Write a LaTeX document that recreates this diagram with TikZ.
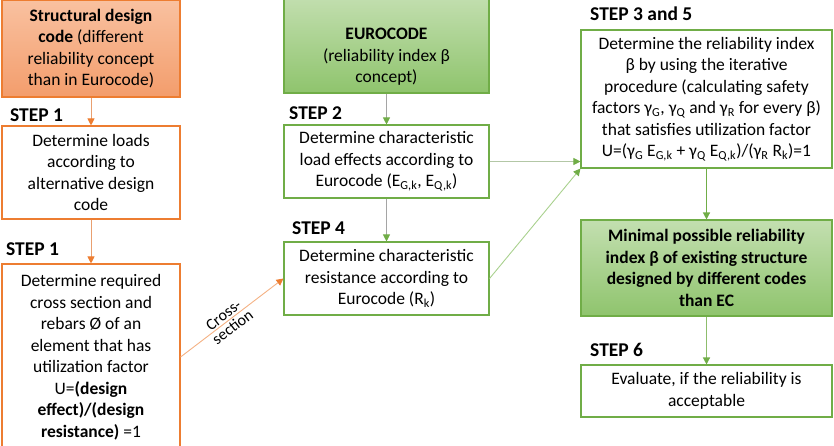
\documentclass[tikz,border=0pt]{standalone}
\usepackage{fontspec}
\setmainfont{Carlito}
\usetikzlibrary{arrows.meta}
\definecolor{ocol}{HTML}{ED7D31}
\definecolor{oline}{HTML}{E9A070}
\definecolor{olight}{HTML}{F4B183}
\definecolor{otop}{HTML}{F9C1A0}
\definecolor{obot}{HTML}{F39D6C}
\definecolor{gcol}{HTML}{70AD47}
\definecolor{gtop}{HTML}{C3DFB0}
\definecolor{gbot}{HTML}{8FC46D}
\definecolor{glight}{HTML}{A9D18E}
\definecolor{ggray}{HTML}{B3C7A6}
\definecolor{agray}{HTML}{A5A5A5}
\newcommand{\sbs}[1]{\textsubscript{#1}}
\begin{document}
\begin{tikzpicture}[x=1pt,y=-1pt,
  box/.style={draw, line width=1.1pt, align=center, inner sep=0pt,
    font=\fontsize{17.5}{21.5}\selectfont},
  obox/.style={box, draw=ocol, fill=white},
  gbox/.style={box, draw=gcol, fill=white},
  steplbl/.style={font=\bfseries\fontsize{19.5}{22}\selectfont, anchor=west, inner sep=0pt},
  tip/.style={-{Triangle[length=7pt,width=7pt,color=#1]}},
  cslbl/.style={font=\fontsize{16}{18}\selectfont, inner sep=1.5pt, sloped},
  ]
\useasboundingbox (0,0) rectangle (834,445);
\clip (0,0) rectangle (834,445);

% left column
\node[box, draw=ocol, top color=otop, bottom color=obot,
  minimum width=178pt, minimum height=97pt] (sdc) at (91,48.5)
  {\textbf{Structural design}\\\textbf{code} (different\\reliability concept\\than in Eurocode)};
\node[obox, minimum width=178pt, minimum height=93pt] (s1a) at (91,172.5)
  {Determine loads\\according to\\alternative design\\code};
\node[obox, minimum width=178pt, minimum height=186pt] (s1b) at (91,357)
  {Determine required\\cross section and\\rebars Ø of an\\element that has\\utilization factor\\U=\textbf{(design}\\\textbf{effect)/(design}\\\textbf{resistance)} =1};

% middle column
\node[box, draw=gcol, top color=gtop, bottom color=gbot,
  minimum width=205pt, minimum height=98pt] (euro) at (386.5,44) {};
\node[align=center, inner sep=0pt, font=\fontsize{17.5}{21.5}\selectfont] (eurotext) at (386.5,57)
  {\textbf{EUROCODE}\\(reliability index β\\concept)};
\node[gbox, minimum width=205pt, minimum height=73pt] (s2) at (386.5,161.5)
  {Determine characteristic\\load effects according to\\Eurocode (E\sbs{G,k}, E\sbs{Q,k})};
\node[gbox, minimum width=205pt, minimum height=73pt] (s4) at (386.5,278.5)
  {Determine characteristic\\resistance according to\\Eurocode (R\sbs{k})};

% right column
\node[gbox, minimum width=251pt, minimum height=138pt] (s35) at (706.5,99)
  {Determine the reliability index\\β by using the iterative\\procedure (calculating safety\\factors γ\sbs{G}, γ\sbs{Q} and γ\sbs{R} for every β)\\that satisfies utilization factor\\U=(γ\sbs{G} E\sbs{G,k} + γ\sbs{Q} E\sbs{Q,k})/(γ\sbs{R} R\sbs{k})=1};
\node[box, draw=gcol, top color=gtop, bottom color=gbot,
  minimum width=251pt, minimum height=96pt, font=\bfseries\fontsize{17.5}{21.5}\selectfont] (minb) at (706.5,268)
  {Minimal possible reliability\\index β of existing structure\\designed by different codes\\than EC};
\node[gbox, minimum width=251pt, minimum height=52pt] (s6) at (706.5,391)
  {Evaluate, if the reliability is\\acceptable};

% step labels
\node[steplbl] (l1) at (10,115) {STEP 1};
\node[steplbl] (l1b) at (6,249) {STEP 1};
\node[steplbl] (l2) at (289,113) {STEP 2};
\node[steplbl] (l4) at (292,228) {STEP 4};
\node[steplbl] (l35) at (590,14) {STEP 3 and 5};
\node[steplbl] (l6) at (590,350) {STEP 6};

% connectors
\draw[tip=ocol, draw=oline, line width=0.9pt] (sdc.south) -- (s1a.north);
\draw[tip=ocol, draw=oline, line width=0.9pt] (s1a.south) -- (s1b.north);
\draw[tip=ocol, draw=olight, line width=0.9pt] (s1b.east) -- (s4.west)
  node[cslbl, pos=0.46, above] (cs1) {Cross-}
  node[cslbl, pos=0.46, below] (cs2) {section};
\draw[tip=gcol, draw=agray, line width=0.9pt] (euro.south) -- (s2.north);
\draw[tip=gcol, draw=agray, line width=0.9pt] (s2.south) -- (s4.north);
\draw[tip=gcol, draw=ggray, line width=0.9pt] (s2.east) -- (s2.east -| s35.west);
\draw[tip=gcol, draw=glight, line width=0.9pt] (s4.east) -- (s35.south west);
\draw[tip=gcol, draw=gcol, line width=1.3pt] (s35.south) -- (minb.north);
\draw[tip=gcol, draw=gcol!80, line width=1.3pt] (minb.south) -- (s6.north);
\end{tikzpicture}
\end{document}
